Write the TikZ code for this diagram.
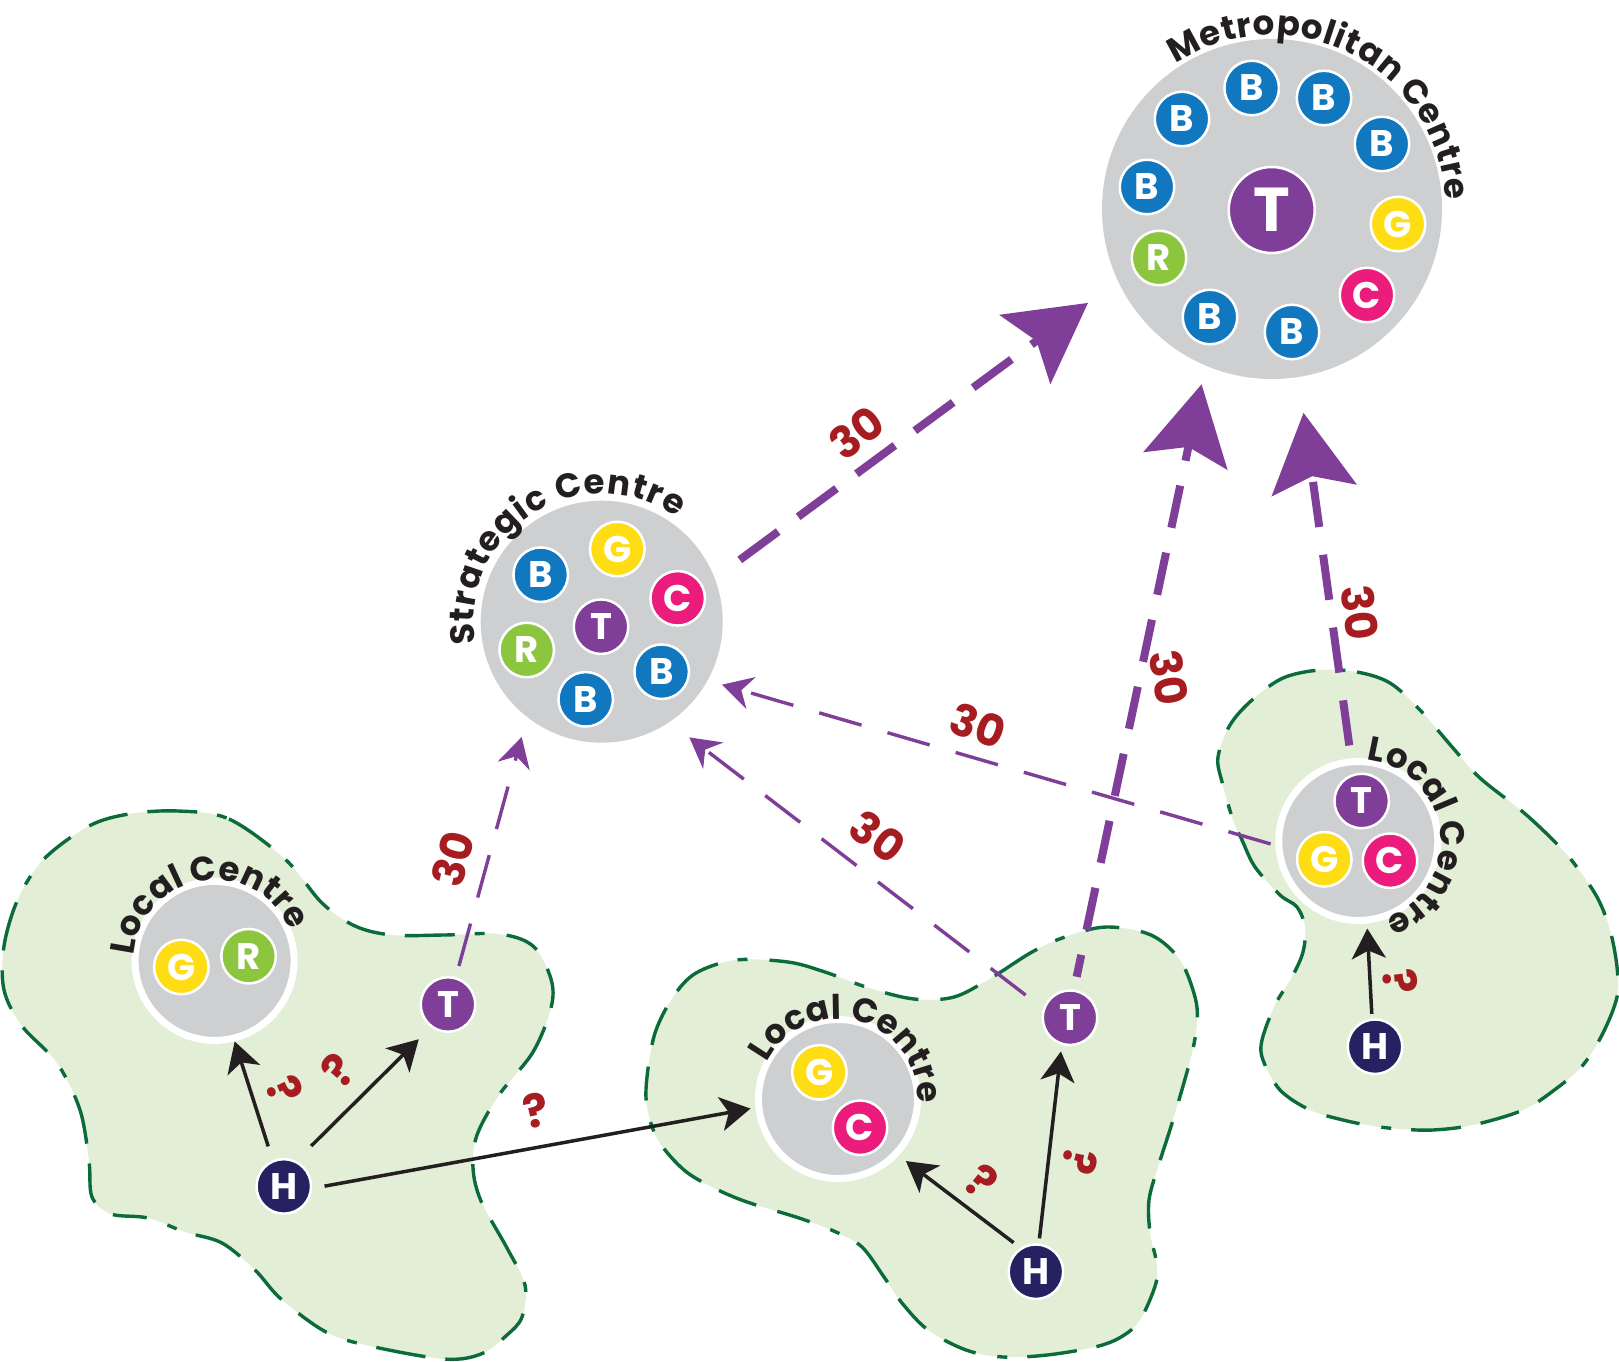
\documentclass[tikz,border=0pt]{standalone}
\usepackage{fontspec}
\setmainfont{Poppins}
\usepackage{xcolor}
\definecolor{zoneFill}{RGB}{226, 238, 214}
\definecolor{zoneEdge}{RGB}{11, 107, 58}
\definecolor{centreGrey}{RGB}{205, 207, 209}
\definecolor{stopBlue}{RGB}{17, 119, 191}
\definecolor{stopYellow}{RGB}{255, 221, 21}
\definecolor{stopPink}{RGB}{236, 28, 124}
\definecolor{stopGreen}{RGB}{140, 198, 63}
\definecolor{linkPurple}{RGB}{127, 63, 152}
\definecolor{homeNavy}{RGB}{38, 34, 98}
\definecolor{inkBlack}{RGB}{35, 31, 32}
\definecolor{noteRed}{RGB}{167, 28, 32}
\usepackage{tikz}
\usetikzlibrary{
    arrows.meta,
    calc,
    decorations.text
}
\newcommand{\curveFont}{\fontsize{34}{34}\selectfont\bfseries}

\begin{document}
\begin{tikzpicture}[
    x=1pt, y=-1pt,
    zoneShape/.style={
        fill=zoneFill, draw=zoneEdge, line width=3.4pt,
        dash pattern=on 50pt off 20pt on 10pt off 22pt on 34pt off 22pt on 40pt off 20pt
    },
    bigCentre/.style={
        circle, fill=centreGrey, inner sep=0pt, minimum size=#1
    },
    localCentre/.style={
        circle, fill=centreGrey, draw=white, line width=7pt,
        inner sep=0pt, minimum size=159pt
    },
    stopNode/.style={
        circle, draw=white, line width=2.5pt, text=white,
        inner sep=0pt, minimum size=54.5pt,
        font=\fontsize{37}{37}\selectfont\bfseries
    },
    busStop/.style={stopNode, fill=stopBlue},
    greenStop/.style={stopNode, fill=stopYellow},
    coachStop/.style={stopNode, fill=stopPink},
    railStop/.style={stopNode, fill=stopGreen},
    transitStop/.style={stopNode, fill=linkPurple},
    homeStop/.style={stopNode, fill=homeNavy},
    heavyLink/.style={
        -{Stealth[length=78pt, width=85pt, inset=14pt]}, line width=8pt, draw=linkPurple,
        dash pattern=#1
    },
    thinLink/.style={
        -{Stealth[length=30pt, width=33pt, inset=10pt]}, line width=3.4pt, draw=linkPurple,
        dash pattern=on 44pt off 27pt
    },
    walkLink/.style={
        -{Stealth[length=30pt, width=34pt, inset=8pt]}, line width=3.5pt, draw=inkBlack
    },
    timeLabel/.style={
        text=noteRed, inner sep=0pt, font=\fontsize{44}{44}\selectfont\bfseries
    },
    askLabel/.style={
        text=noteRed, inner sep=0pt, font=\fontsize{46}{46}\selectfont\bfseries
    },
    curveLabel/.style={
        decorate, decoration={
            text along path, text align={fit to path}, text color=inkBlack,
            text={|\curveFont|#1}
        }
    }
]
    \useasboundingbox (0,0) rectangle (1619,1362);

    % Walkable zones
    \draw[zoneShape] plot[smooth cycle, tension=0.55] coordinates {
        (178,811) (229,819) (285,859) (322,903) (355,926) (392,935) (444,935) (499,934)
        (533,946) (551,979) (551,1008) (533,1052) (499,1095) (477,1135) (473,1168) (481,1201)
        (507,1248) (525,1285) (522,1317) (507,1335) (481,1354) (444,1359) (370,1346) (326,1332)
        (281,1299) (255,1270) (222,1243) (185,1232) (148,1218) (111,1214) (92,1197) (89,1161)
        (80,1110) (57,1063) (22,1026) (4,990) (4,946) (18,899) (44,859) (89,826) (129,814)
    };
    \draw[zoneShape] plot[smooth cycle, tension=0.55] coordinates {
        (736,960) (788,962) (825,972) (869,988) (914,999) (954,997) (991,978) (1032,952)
        (1065,937) (1106,927) (1151,935) (1180,960) (1195,997) (1197,1023) (1191,1057) (1173,1120)
        (1158,1167) (1149,1200) (1150,1233) (1156,1260) (1156,1283) (1140,1320) (1121,1337)
        (1095,1347) (1047,1355) (1003,1357) (966,1350) (928,1330) (902,1303) (884,1277) (862,1247)
        (836,1232) (799,1218) (747,1202) (714,1188) (684,1170) (658,1140) (647,1107) (647,1077)
        (655,1033) (673,997) (696,973)
    };
    \draw[zoneShape] plot[smooth cycle, tension=0.55] coordinates {
        (1320,670) (1357,672) (1390,683) (1420,710) (1453,748) (1480,778) (1523,812) (1553,840)
        (1573,862) (1597,897) (1610,930) (1617,967) (1617,997) (1603,1033) (1583,1065) (1557,1088)
        (1523,1110) (1473,1125) (1433,1130) (1400,1129) (1373,1126) (1343,1120) (1310,1110)
        (1280,1090) (1263,1060) (1262,1040) (1275,1005) (1292,977) (1303,952) (1305,927) (1297,907)
        (1280,895) (1255,867) (1242,840) (1233,820) (1222,782) (1218,757) (1230,725) (1252,700)
        (1283,678)
    };

    % Metropolitan Centre
    \node[bigCentre=340pt] (metro) at (1272,209) {};
    \node[transitStop, minimum size=86pt, font=\fontsize{62}{62}\selectfont\bfseries] (metroT) at (1271.7,210) {T};
    \node[busStop] (metroB1) at (1251.7,88) {B};
    \node[busStop] (metroB2) at (1182,119) {B};
    \node[busStop] (metroB3) at (1324,98) {B};
    \node[busStop] (metroB4) at (1382,144) {B};
    \node[busStop] (metroB5) at (1147,187) {B};
    \node[busStop] (metroB6) at (1210,317) {B};
    \node[busStop] (metroB7) at (1292,332) {B};
    \node[greenStop] (metroG) at (1398,224) {G};
    \node[railStop] (metroR) at (1159,258) {R};
    \node[coachStop] (metroC) at (1367,295) {C};

    % Strategic Centre
    \node[bigCentre=242pt] (strategic) at (601.7,621.7) {};
    \node[greenStop] (stratG) at (617.3,549) {G};
    \node[coachStop] (stratC) at (677.7,598.3) {C};
    \node[busStop] (stratB1) at (540.7,574.7) {B};
    \node[transitStop] (stratT) at (601,626.7) {T};
    \node[railStop] (stratR) at (526.7,650) {R};
    \node[busStop] (stratB2) at (661.7,671.7) {B};
    \node[busStop] (stratB3) at (585.7,699.3) {B};

    % Left zone
    \node[localCentre] (localA) at (214.6,960.9) {};
    \node[greenStop] (localAG) at (181.3,967) {G};
    \node[railStop] (localAR) at (248.6,956.2) {R};
    \node[transitStop] (transitA) at (448,1004.5) {T};
    \node[homeStop] (homeA) at (283.8,1186.4) {H};

    % Middle zone
    \node[localCentre] (localB) at (838,1099) {};
    \node[greenStop] (localBG) at (819.4,1072.3) {G};
    \node[coachStop] (localBC) at (860,1127.7) {C};
    \node[transitStop] (transitB) at (1070,1017.7) {T};
    \node[homeStop] (homeB) at (1035.9,1271.7) {H};

    % Right zone
    \node[localCentre] (localC) at (1358.3,841) {};
    \node[transitStop] (localCT) at (1361.7,801) {T};
    \node[greenStop] (localCG) at (1324.3,859.3) {G};
    \node[coachStop] (localCC) at (1390,860.7) {C};
    \node[homeStop] (homeC) at (1375,1046.7) {H};

    % Heavy links to the Metropolitan Centre
    \draw[heavyLink={on 47.7pt off 24.8pt}, shorten <=31pt, shorten >=37pt] (strategic.21) -- (metro.205);
    \draw[heavyLink={on 43pt off 25.5pt}, dash phase=20.6pt, shorten <=13pt, shorten >=19pt] (transitB.82) -- (metro.247);
    \draw[heavyLink={on 45.5pt off 28pt}, shorten <=13pt, shorten >=36pt] (localC.95) -- (metro.279);

    % Thin links to the Strategic Centre
    \draw[thinLink, shorten <=5pt, shorten >=15pt] (localC.183) -- (strategic.331);
    \draw[thinLink, shorten <=22pt, shorten >=25pt] (transitB.161) -- (strategic.304);
    \draw[thinLink, shorten <=11.5pt, shorten >=20.5pt] (transitA.74) -- (strategic.232);

    % Walking links
    \draw[walkLink, shorten <=14.5pt] (homeA.113) -- (localA.284);
    \draw[walkLink, shorten <=21pt, shorten >=17pt] (homeA.64) -- (transitA.233);
    \draw[walkLink, shorten <=12.5pt, shorten >=5pt] (homeA.356) -- (localB.186);
    \draw[walkLink, shorten <=8.5pt, shorten >=9pt] (homeB.123) -- (localB.317);
    \draw[walkLink, shorten <=5pt, shorten >=6.5pt] (homeB.84) -- (transitB.253);
    \draw[walkLink, shorten <=4.5pt, shorten >=5pt] (homeC.96) -- (localC.276);

    % Travel times
    \node[timeLabel, rotate=37] (timeA) at (856.7,432.7) {30};
    \node[timeLabel, rotate=-80] (timeB) at (1169,678) {30};
    \node[timeLabel, rotate=-83] (timeC) at (1360,613) {30};
    \node[timeLabel, rotate=-20] (timeD) at (977.7,726) {30};
    \node[timeLabel, rotate=-36] (timeE) at (877.9,836.7) {30};
    \node[timeLabel, rotate=75] (timeF) at (453.2,859) {30};

    \node[askLabel, rotate=-66] (askA) at (284.9,1090) {?};
    \node[askLabel, rotate=48] (askB) at (338.5,1070) {?};
    \node[askLabel, rotate=12] (askC) at (536.4,1110) {?};
    \node[askLabel, rotate=-40] (askD) at (982.2,1181.7) {?};
    \node[askLabel, rotate=-104] (askE) at (1080,1161.7) {?};
    \node[askLabel, rotate=-85] (askF) at (1400,981.7) {?};

    % Curved names
    \path[curveLabel={Metropolitan Centre}] ($(metro)+(123.5:174pt)$) arc[start angle=123.5, end angle=3, radius=174pt];
    \path[curveLabel={Strategic Centre}] ($(strategic)+(190:128pt)$) arc[start angle=190, end angle=54, radius=128pt];
    \path[curveLabel={Local Centre}] ($(localA)+(176:81pt)$) arc[start angle=176, end angle=27, radius=81pt];
    \path[curveLabel={Local Centre}] ($(localB)+(153:80pt)$) arc[start angle=153, end angle=-1, radius=80pt];
    \path[curveLabel={Local Centre}] ($(localC)+(84:82pt)$) arc[start angle=84, end angle=-71, radius=82pt];

\end{tikzpicture}
\end{document}
